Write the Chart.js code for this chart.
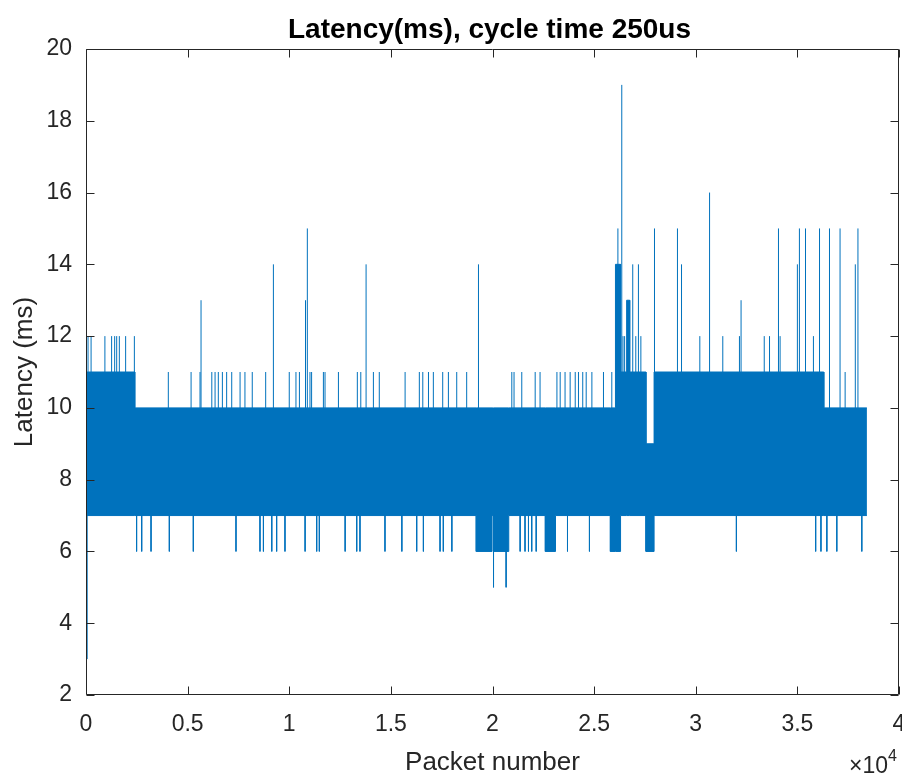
<!DOCTYPE html>
<html lang="en">
<head>
<meta charset="utf-8">
<title>Latency(ms), cycle time 250us</title>
<script src="https://cdn.jsdelivr.net/npm/chart.js@4.4.1/dist/chart.umd.min.js"></script>
<style>
  html, body { margin: 0; padding: 0; background: #ffffff; }
  canvas { display: block; }
</style>
</head>
<body>
<canvas id="graficoLatencia" width="902" height="778"></canvas>
<script>
// -------------------------------------------------------------
// DADOS (pacote -> latência em ms)
// -------------------------------------------------------------

const TITULO = 'Latency(ms), cycle time 250us';

// Faixa densa onde o sinal oscila o tempo todo: trechos com latência mínima e máxima
const faixaInicio = [0,    2400,  19200, 19980, 20050, 20800, 22600, 23100, 25800, 26050, 26300, 26600, 26750, 27550, 27950, 36300];
const faixaFim    = [2400, 19200, 19980, 20050, 20800, 22600, 23100, 25800, 26050, 26300, 26600, 26750, 27550, 27950, 36300, 38420];
const faixaMin    = [7,    7,     6,     7,     6,     7,     6,     7,     6,     6,     7,     7,     7,     6,     7,     7];
const faixaMax    = [11,   10,    10,    10,    10,    10,    10,    10,    10,    14,    11,    13,    11,    9,     11,    10];

// Picos e quedas isoladas fora da faixa
const picoPacote = [
    40, 100, 250, 930, 1260, 1410, 1510, 1640, 1950, 2380,
    2490, 2740, 3200, 4050, 4100, 5170, 5280, 5610, 5660, 6190, 6350, 6510, 6710, 6920, 7170, 7380, 7580, 7820, 8180, 8560, 8730, 8840,
    9140, 9220, 9380, 9790, 10000, 10330, 10500, 10780, 10800, 10890, 11020, 11100, 11350, 11480, 11680, 11760, 12420, 12750,
    13320, 13350, 13480, 13520, 13780, 14140, 14430, 14710, 15540, 15700, 16270, 16400, 16570, 16600, 16850, 17090, 17420, 17550,
    17580, 17830, 18000, 18240, 18730, 19310, 20050, 20670, 20950, 21060, 21360, 21440, 21600, 21770, 21930, 22100, 22150, 22340,
    23170, 23330, 23570, 23690, 23820, 24070, 24230, 24440, 24610, 24770, 24890, 25460, 25870,
    26170, 26360, 26420, 26500, 26900, 27050, 27180, 27300, 27970, 29100, 29300, 30200, 30680, 31330, 32000, 32150, 32230, 33370,
    33630, 34070, 34150, 35000, 35100, 35400, 35790, 35900, 36090, 36160, 36450, 36580, 36940, 37100, 37350, 37850, 37980, 38170
];
const picoValor = [
    3, 12, 12, 12, 12, 12, 12, 12, 12, 12,
    6, 6, 6, 11, 6, 11, 6, 11, 13, 11, 11, 11, 11, 11, 11, 6, 11, 11, 11, 6, 6, 11,
    6, 14, 6, 6, 11, 11, 11, 6, 13, 15, 11, 11, 6, 6, 11, 11, 11, 6,
    6, 11, 6, 11, 14, 11, 11, 6, 6, 11, 6, 11, 11, 6, 11, 11, 6, 11,
    6, 11, 6, 11, 11, 14, 5, 5, 11, 11, 6, 11, 6, 6, 6, 11, 6, 11,
    11, 11, 11, 6, 11, 11, 11, 11, 11, 6, 11, 11, 11,
    15, 19, 12, 12, 14, 12, 14, 12, 15, 15, 14, 12, 16, 12, 6, 12, 13, 12,
    12, 15, 12, 14, 15, 15, 12, 6, 15, 6, 6, 15, 6, 15, 11, 14, 15, 6
];

// Marcas dos eixos
const ticksX = [0, 5000, 10000, 15000, 20000, 25000, 30000, 35000, 40000];
const rotulosX = ['0', '0.5', '1', '1.5', '2', '2.5', '3', '3.5', '4'];
const ticksY = [2, 4, 6, 8, 10, 12, 14, 16, 18, 20];

// -------------------------------------------------------------
// MONTAGEM DAS SÉRIES
// -------------------------------------------------------------

const AZUL = '#0072BD';
const FONTE = "'Liberation Sans', Arial, Helvetica, sans-serif";
const COR_EIXO = '#262626';

function montarBorda(valores) {
    const pontos = [];
    faixaInicio.forEach((ini, i) => {
        pontos.push({ x: ini, y: valores[i] });
        pontos.push({ x: faixaFim[i], y: valores[i] });
    });
    return pontos;
}

function montarPicos() {
    const pontos = [];
    picoPacote.forEach((p, i) => {
        pontos.push({ x: p, y: 8.5 });
        pontos.push({ x: p, y: picoValor[i] });
        pontos.push({ x: p, y: null }); // quebra a linha entre um pico e outro
    });
    return pontos;
}

// Caixa estilo MATLAB com marcas para dentro nos quatro lados, título e multiplicador x10^4
const caixaEixos = {
    id: 'caixaEixos',
    afterDatasetsDraw(chart) {
        const { ctx, chartArea: a, scales } = chart;
        const L = Math.round(a.left) + 0.5, R = Math.round(a.right) - 0.5;
        const T = Math.round(a.top) + 0.5, B = Math.round(a.bottom) - 0.5;
        const tam = 8;
        ctx.save();
        ctx.strokeStyle = COR_EIXO;
        ctx.lineWidth = 1;
        ctx.beginPath();
        ctx.rect(L, T, R - L, B - T);
        ticksX.forEach(v => {
            const px = Math.round(scales.x.getPixelForValue(v)) + 0.5;
            ctx.moveTo(px, B); ctx.lineTo(px, B - tam);
            ctx.moveTo(px, T); ctx.lineTo(px, T + tam);
        });
        ticksY.forEach(v => {
            const py = Math.round(scales.y.getPixelForValue(v)) + 0.5;
            ctx.moveTo(L, py); ctx.lineTo(L + tam, py);
            ctx.moveTo(R, py); ctx.lineTo(R - tam, py);
        });
        ctx.stroke();

        // título centrado sobre a área do gráfico (o plugin de título centra na tela toda)
        ctx.fillStyle = '#000000';
        ctx.textAlign = 'center';
        ctx.textBaseline = 'alphabetic';
        ctx.font = 'bold 28px ' + FONTE;
        ctx.fillText(TITULO, (a.left + a.right) / 2 - 3, 38);

        // multiplicador do eixo x
        ctx.fillStyle = COR_EIXO;
        ctx.textAlign = 'right';
        ctx.font = '16px ' + FONTE;
        ctx.fillText('4', a.right - 2, 761);
        const w4 = ctx.measureText('4').width;
        ctx.font = '23px ' + FONTE;
        ctx.fillText('\u00d710', a.right - 2 - w4, 773);
        ctx.restore();
    }
};

const ctx = document.getElementById('graficoLatencia').getContext('2d');

new Chart(ctx, {
    type: 'line',
    data: {
        datasets: [
            {
                data: montarBorda(faixaMin),
                borderColor: AZUL, borderWidth: 1, pointRadius: 0, fill: false
            },
            {
                data: montarBorda(faixaMax),
                borderColor: AZUL, borderWidth: 1, pointRadius: 0,
                backgroundColor: AZUL,
                fill: '-1' // pinta entre a borda de baixo e a de cima
            },
            {
                data: montarPicos(),
                borderColor: AZUL, borderWidth: 1, pointRadius: 0, fill: false,
                spanGaps: false
            }
        ]
    },
    options: {
        responsive: false,
        animation: false,
        events: [],
        layout: { padding: { left: 0, right: 3, top: 49, bottom: 0 } },
        plugins: {
            legend: { display: false },
            tooltip: { enabled: false },
            title: { display: false }
        },
        scales: {
            x: {
                type: 'linear', min: 0, max: 40000,
                afterBuildTicks: s => { s.ticks = ticksX.map(v => ({ value: v })); },
                afterFit: s => {
                    s.height = 83;
                    // o rótulo "4" pode encostar na borda, sem encolher a área do gráfico
                    s.paddingLeft = 0;
                    s.paddingRight = 0;
                },
                ticks: {
                    autoSkip: false, maxRotation: 0, padding: 8, color: COR_EIXO,
                    font: { family: FONTE, size: 23 },
                    callback: (v) => rotulosX[ticksX.indexOf(v)]
                },
                grid: { display: false },
                border: { display: false },
                title: {
                    display: true, text: 'Packet number', color: COR_EIXO,
                    font: { family: FONTE, size: 26, lineHeight: 1 },
                    padding: { top: 0, bottom: 2 }
                }
            },
            y: {
                min: 2, max: 20,
                afterBuildTicks: s => { s.ticks = ticksY.map(v => ({ value: v })); },
                afterFit: s => {
                    s.width = 86;
                    s.paddingTop = 0;
                    s.paddingBottom = 0;
                },
                ticks: {
                    autoSkip: false, padding: 6, color: COR_EIXO,
                    font: { family: FONTE, size: 23 }
                },
                grid: { display: false },
                border: { display: false },
                title: {
                    display: true, text: 'Latency (ms)', color: COR_EIXO,
                    font: { family: FONTE, size: 26, lineHeight: 1 },
                    padding: { top: 12, bottom: 0 }
                }
            }
        }
    },
    plugins: [caixaEixos]
});
</script>
</body>
</html>
